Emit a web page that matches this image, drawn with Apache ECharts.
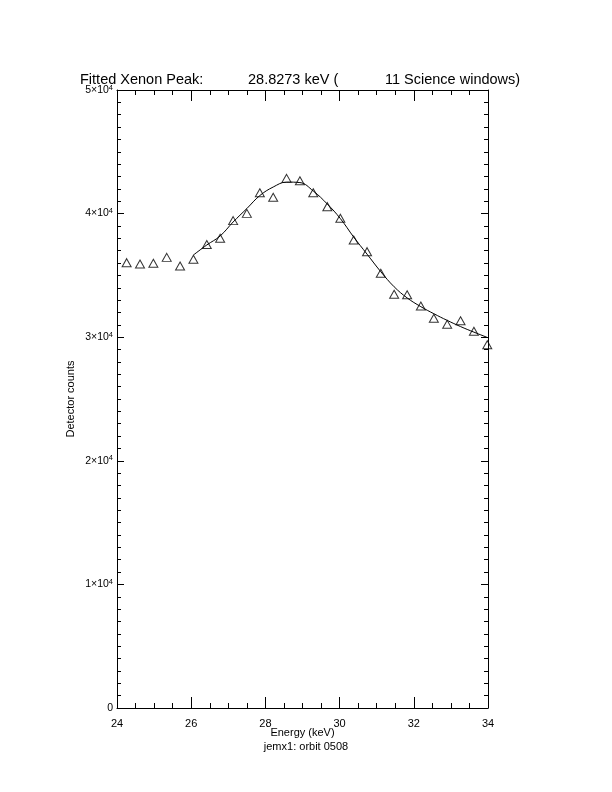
<!DOCTYPE html>
<html>
<head>
<meta charset="utf-8">
<script src="https://cdn.jsdelivr.net/npm/echarts@6/dist/echarts.min.js"></script>
<style>html,body{margin:0;padding:0;background:#fff;}#c{width:612px;height:792px;}</style>
</head>
<body>
<div id="c"></div>
<script>
// Measured data points (energy in keV, detector counts)
const energy = [24.26, 24.62, 24.98, 25.34, 25.70, 26.06, 26.42, 26.78, 27.13, 27.50, 27.85, 28.21, 28.57, 28.93,
                29.29, 29.67, 30.02, 30.38, 30.74, 31.11, 31.47, 31.82, 32.19, 32.54, 32.90, 33.26, 33.62, 33.98];
const counts = [36030, 35920, 35980, 36460, 35760, 36300, 37500, 38000, 39430, 40020, 41690, 41320, 42850, 42660,
                41690, 40560, 39620, 37860, 36920, 35170, 33470, 33440, 32520, 31530, 31040, 31330, 30480, 29390];
// Fitted curve (from 26.06 keV to end)
const fitEnergy = [26.06, 26.42, 26.78, 27.13, 27.50, 27.85, 28.21, 28.57, 28.93, 29.29, 29.67, 30.02, 30.38,
                   30.74, 31.11, 31.47, 31.82, 32.19, 32.54, 32.90, 33.26, 33.62, 34.00];
const fitCounts = [36650, 37460, 38190, 39320, 40410, 41460, 42150, 42550, 42510, 41830, 40770, 39600, 38100,
                   36720, 35300, 34080, 33180, 32470, 31900, 31360, 30860, 30410, 29960];
const xTicks = [24, 26, 28, 30, 32, 34];
const yTicks = [0, 10000, 20000, 30000, 40000, 50000];
const titleParts = ['Fitted Xenon Peak:', '28.8273 keV (', '11 Science windows)'];
const xName = 'Energy (keV)';
const yName = 'Detector counts';
const subText = 'jemx1: orbit 0508';

const FONT = 'Liberation Sans';
const chart = echarts.init(document.getElementById('c'), null, {renderer: 'canvas'});

const baseX = {
  type: 'value', min: xTicks[0], max: xTicks[xTicks.length - 1], interval: 2,
  axisLine: {show: true, onZero: false, lineStyle: {color: '#000', width: 1}},
  axisTick: {show: true, inside: true, length: 11, lineStyle: {color: '#000'}},
  minorTick: {show: true, splitNumber: 4, length: 5, lineStyle: {color: '#000'}},
  splitLine: {show: false}, minorSplitLine: {show: false}
};
const baseY = {
  type: 'value', min: yTicks[0], max: yTicks[yTicks.length - 1], interval: 10000,
  axisLine: {show: true, onZero: false, lineStyle: {color: '#000', width: 1}},
  axisTick: {show: true, inside: true, length: 7, lineStyle: {color: '#000'}},
  minorTick: {show: true, splitNumber: 10, length: 4, lineStyle: {color: '#000'}},
  splitLine: {show: false}, minorSplitLine: {show: false}
};

chart.setOption({
  backgroundColor: '#fff',
  animation: false,
  title: {
    text: '{a|' + titleParts[0] + '}{b|' + titleParts[1] + '}{c|' + titleParts[2] + '}',
    left: 80, top: 72, padding: 0,
    textStyle: {
      fontFamily: FONT, fontSize: 14.5, fontWeight: 'normal', color: '#000',
      rich: {
        a: {fontFamily: FONT, fontSize: 14.5, color: '#000', width: 168},
        b: {fontFamily: FONT, fontSize: 14.5, color: '#000', width: 137},
        c: {fontFamily: FONT, fontSize: 14.5, color: '#000'}
      }
    }
  },
  grid: {left: 117, right: 124, top: 90, bottom: 84},
  xAxis: [
    Object.assign({}, baseX, {
      position: 'bottom',
      name: xName, nameLocation: 'middle', nameGap: 19, nameMoveOverlap: false,
      nameTextStyle: {fontFamily: FONT, fontSize: 11, color: '#000'},
      axisLabel: {show: true, margin: 10, fontFamily: FONT, fontSize: 11, color: '#000'}
    }),
    Object.assign({}, baseX, {position: 'top', axisLabel: {show: false}})
  ],
  yAxis: [
    Object.assign({}, baseY, {
      position: 'left',
      name: yName, nameLocation: 'middle', nameGap: 41, nameRotate: 90, nameMoveOverlap: false,
      nameTextStyle: {fontFamily: FONT, fontSize: 11, color: '#000'},
      axisLabel: {
        show: true, margin: 4, fontFamily: FONT, color: '#000',
        formatter: function (v) { return v === 0 ? '{b|0}' : '{b|' + (v / 10000) + '×10}{s|4}'; },
        rich: {
          b: {fontFamily: FONT, fontSize: 10.5, color: '#000'},
          s: {fontFamily: FONT, fontSize: 7.5, color: '#000', padding: [0, 0, 5, 0]}
        }
      }
    }),
    Object.assign({}, baseY, {position: 'right', axisLabel: {show: false}})
  ],
  graphic: [{
    type: 'text', left: 'center', top: 741,
    style: {text: subText, fontFamily: FONT, fontSize: 11, fill: '#000'}
  }],
  series: [
    {
      type: 'line', name: 'fit', xAxisIndex: 0, yAxisIndex: 0,
      data: fitEnergy.map((e, i) => [e, fitCounts[i]]),
      smooth: 0.4, showSymbol: false, symbol: 'none',
      lineStyle: {color: '#000', width: 1}, z: 2
    },
    {
      type: 'scatter', name: 'data', xAxisIndex: 0, yAxisIndex: 0,
      data: energy.map((e, i) => [e, counts[i]]),
      symbol: 'triangle', symbolSize: [9, 8],
      itemStyle: {color: 'rgba(255,255,255,0)', borderColor: '#000', borderWidth: 1}, z: 3
    }
  ]
});
</script>
</body>
</html>
